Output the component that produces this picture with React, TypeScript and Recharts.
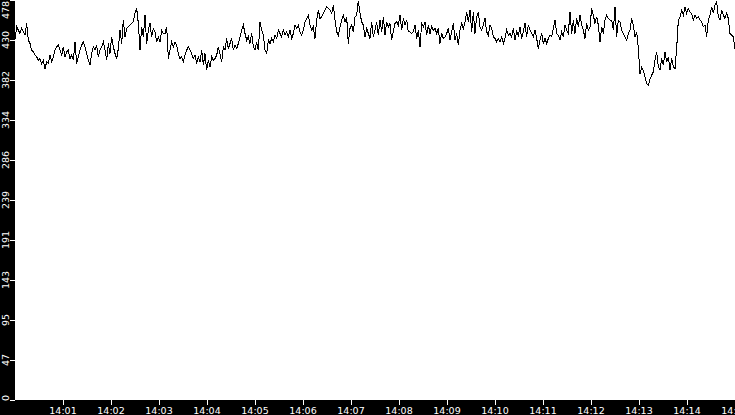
import React from "react";
import { LineChart, Line, XAxis, YAxis, CartesianGrid } from "recharts";

// Samples run from 14:00:00 to 14:15:00, evenly spaced
const startHour = 14;
const spanSeconds = 900;

// Series values, in time order
const values: number[] = [
  // 14:00:00 - ~14:02:30
  431, 446, 442, 438, 444, 440, 436, 450, 430, 426,
  418, 416, 412, 410, 406, 408, 402, 406, 396, 404,
  402, 412, 404, 410, 418, 422, 424, 418, 412, 422,
  410, 416, 418, 408, 412, 406, 428, 402, 410, 418,
  424, 428, 422, 414, 406, 400, 414, 422, 418, 424,
  410, 418, 422, 428, 418, 406, 426, 414, 434, 422,
  414, 408, 420, 442, 426, 454, 434, 444, 446, 448,
  450, 452,
  // ~14:02:30 - ~14:05:00
  462, 468, 450, 418, 446, 434, 460, 426, 442, 450,
  434, 444, 440, 428, 434, 428, 442, 438, 438, 446,
  408, 418, 428, 422, 428, 424, 414, 408, 410, 404,
  412, 418, 422, 418, 414, 408, 412, 402, 410, 404,
  418, 400, 414, 394, 406, 398, 410, 406, 408, 412,
  422, 414, 404, 422, 418, 432, 420, 426, 432, 418,
  424, 420, 426, 434, 442, 448, 438, 430, 434, 426,
  438, 422,
  // ~14:05:00 - ~14:07:30
  418, 428, 418, 452, 442, 436, 418, 414, 430, 426,
  432, 428, 436, 432, 442, 438, 434, 442, 436, 440,
  434, 442, 432, 438, 448, 444, 448, 440, 436, 442,
  452, 456, 460, 448, 442, 446, 432, 454, 466, 456,
  458, 462, 466, 470, 468, 466, 462, 472, 454, 440,
  436, 446, 454, 460, 452, 458, 426, 444, 448, 440,
  458, 460, 477, 462, 452, 448, 434, 444, 438, 432,
  452, 434,
  // ~14:07:30 - ~14:10:00
  442, 452, 436, 454, 440, 458, 436, 452, 446, 450,
  430, 440, 450, 452, 448, 460, 442, 456, 448, 454,
  440, 440, 438, 440, 448, 432, 442, 422, 450, 446,
  452, 436, 448, 438, 446, 442, 444, 438, 444, 426,
  438, 432, 434, 438, 444, 430, 440, 450, 430, 438,
  424, 442, 450, 444, 452, 464, 452, 466, 440, 464,
  438, 458, 464, 446, 442, 448, 456, 440, 436, 448,
  444, 434,
  // ~14:10:00 - ~14:12:30
  432, 428, 432, 428, 434, 426, 432, 442, 436, 438,
  434, 444, 430, 440, 436, 446, 432, 440, 450, 434,
  448, 442, 438, 434, 442, 432, 420, 430, 438, 426,
  432, 426, 432, 436, 434, 444, 454, 438, 436, 430,
  440, 434, 448, 442, 438, 464, 438, 454, 438, 456,
  446, 460, 448, 442, 432, 450, 442, 446, 468, 460,
  450, 458, 448, 428, 446, 438, 454, 460, 456, 454,
  454, 442,
  // ~14:12:30 - 14:15:00
  470, 434, 454, 452, 442, 438, 434, 430, 438, 442,
  456, 448, 434, 440, 420, 390, 398, 394, 386, 378,
  376, 384, 388, 392, 406, 416, 398, 394, 408, 400,
  416, 404, 410, 394, 408, 398, 396, 420, 454, 458,
  466, 460, 470, 462, 468, 464, 462, 454, 460, 456,
  458, 454, 452, 446, 448, 434, 454, 460, 470, 462,
  472, 476, 458, 454, 466, 460, 456, 462, 456, 438,
  436, 434, 420,
];

// X axis tick positions (seconds after 14:00:00)
const xTicks: number[] = [60, 120, 180, 240, 300, 360, 420, 480, 540, 600, 660, 720, 780, 840, 900];
// Y axis ticks and their labels
const yTicks: number[] = [0, 47.8, 95.6, 143.4, 191.2, 239, 286.8, 334.6, 382.4, 430.2, 478];
const yTickLabels: string[] = ["0", "47", "95", "143", "191", "239", "286", "334", "382", "430", "478"];

const stepSeconds = spanSeconds / (values.length - 1);
const data = values.map((v, i) => ({ t: i * stepSeconds, v }));

const fmtTime = (s: number) => {
  const m = Math.round(s / 60);
  const h = startHour + Math.floor(m / 60);
  const mm = m % 60;
  return `${h}:${mm < 10 ? "0" : ""}${mm}`;
};

const FONT = "'DejaVu Sans', sans-serif";
const FS = 9.5;
const PLOT_TOP = 0;
const PLOT_BOTTOM = 400;

const XTick = (props: any) => {
  const { x, payload } = props;
  return (
    <text x={x} y={413.5} textAnchor="middle" fill="#fff" fontFamily={FONT} fontSize={FS}>
      {fmtTime(payload.value)}
    </text>
  );
};

const YTick = (props: any) => {
  const { y, payload, index } = props;
  const label = yTickLabels[index] ?? String(Math.floor(payload.value));
  const half = label.length * 3;
  let cy = y;
  if (cy - half < PLOT_TOP + 1) cy = PLOT_TOP + 1 + half;
  if (cy + half > PLOT_BOTTOM + 1) cy = PLOT_BOTTOM + 1 - half;
  const bx = 9;
  return (
    <text
      x={bx}
      y={cy}
      transform={`rotate(-90, ${bx}, ${cy})`}
      textAnchor="middle"
      fill="#fff"
      fontFamily={FONT}
      fontSize={FS}
    >
      {label}
    </text>
  );
};

export default function App() {
  return (
    <div style={{ position: "absolute", left: 0, top: 0, width: 735, height: 415, background: "#000" }}>
      <LineChart
        width={735}
        height={415}
        data={data}
        margin={{ top: 0, right: 0, bottom: 0, left: 0 }}
        style={{ shapeRendering: "crispEdges" }}
      >
        <CartesianGrid horizontal={false} vertical={false} fill="#fff" />
        <XAxis
          dataKey="t"
          type="number"
          domain={[0, spanSeconds]}
          ticks={xTicks}
          height={15}
          axisLine={false}
          tickLine={{ stroke: "#fff" }}
          tickSize={5}
          tick={<XTick />}
          interval={0}
        />
        <YAxis
          type="number"
          domain={[0, 478]}
          ticks={yTicks}
          width={15}
          axisLine={false}
          tickLine={{ stroke: "#fff" }}
          tickSize={5}
          tick={<YTick />}
          interval={0}
          allowDataOverflow
        />
        <Line
          dataKey="v"
          type="linear"
          stroke="#000"
          strokeWidth={1}
          dot={false}
          isAnimationActive={false}
        />
      </LineChart>
    </div>
  );
}
